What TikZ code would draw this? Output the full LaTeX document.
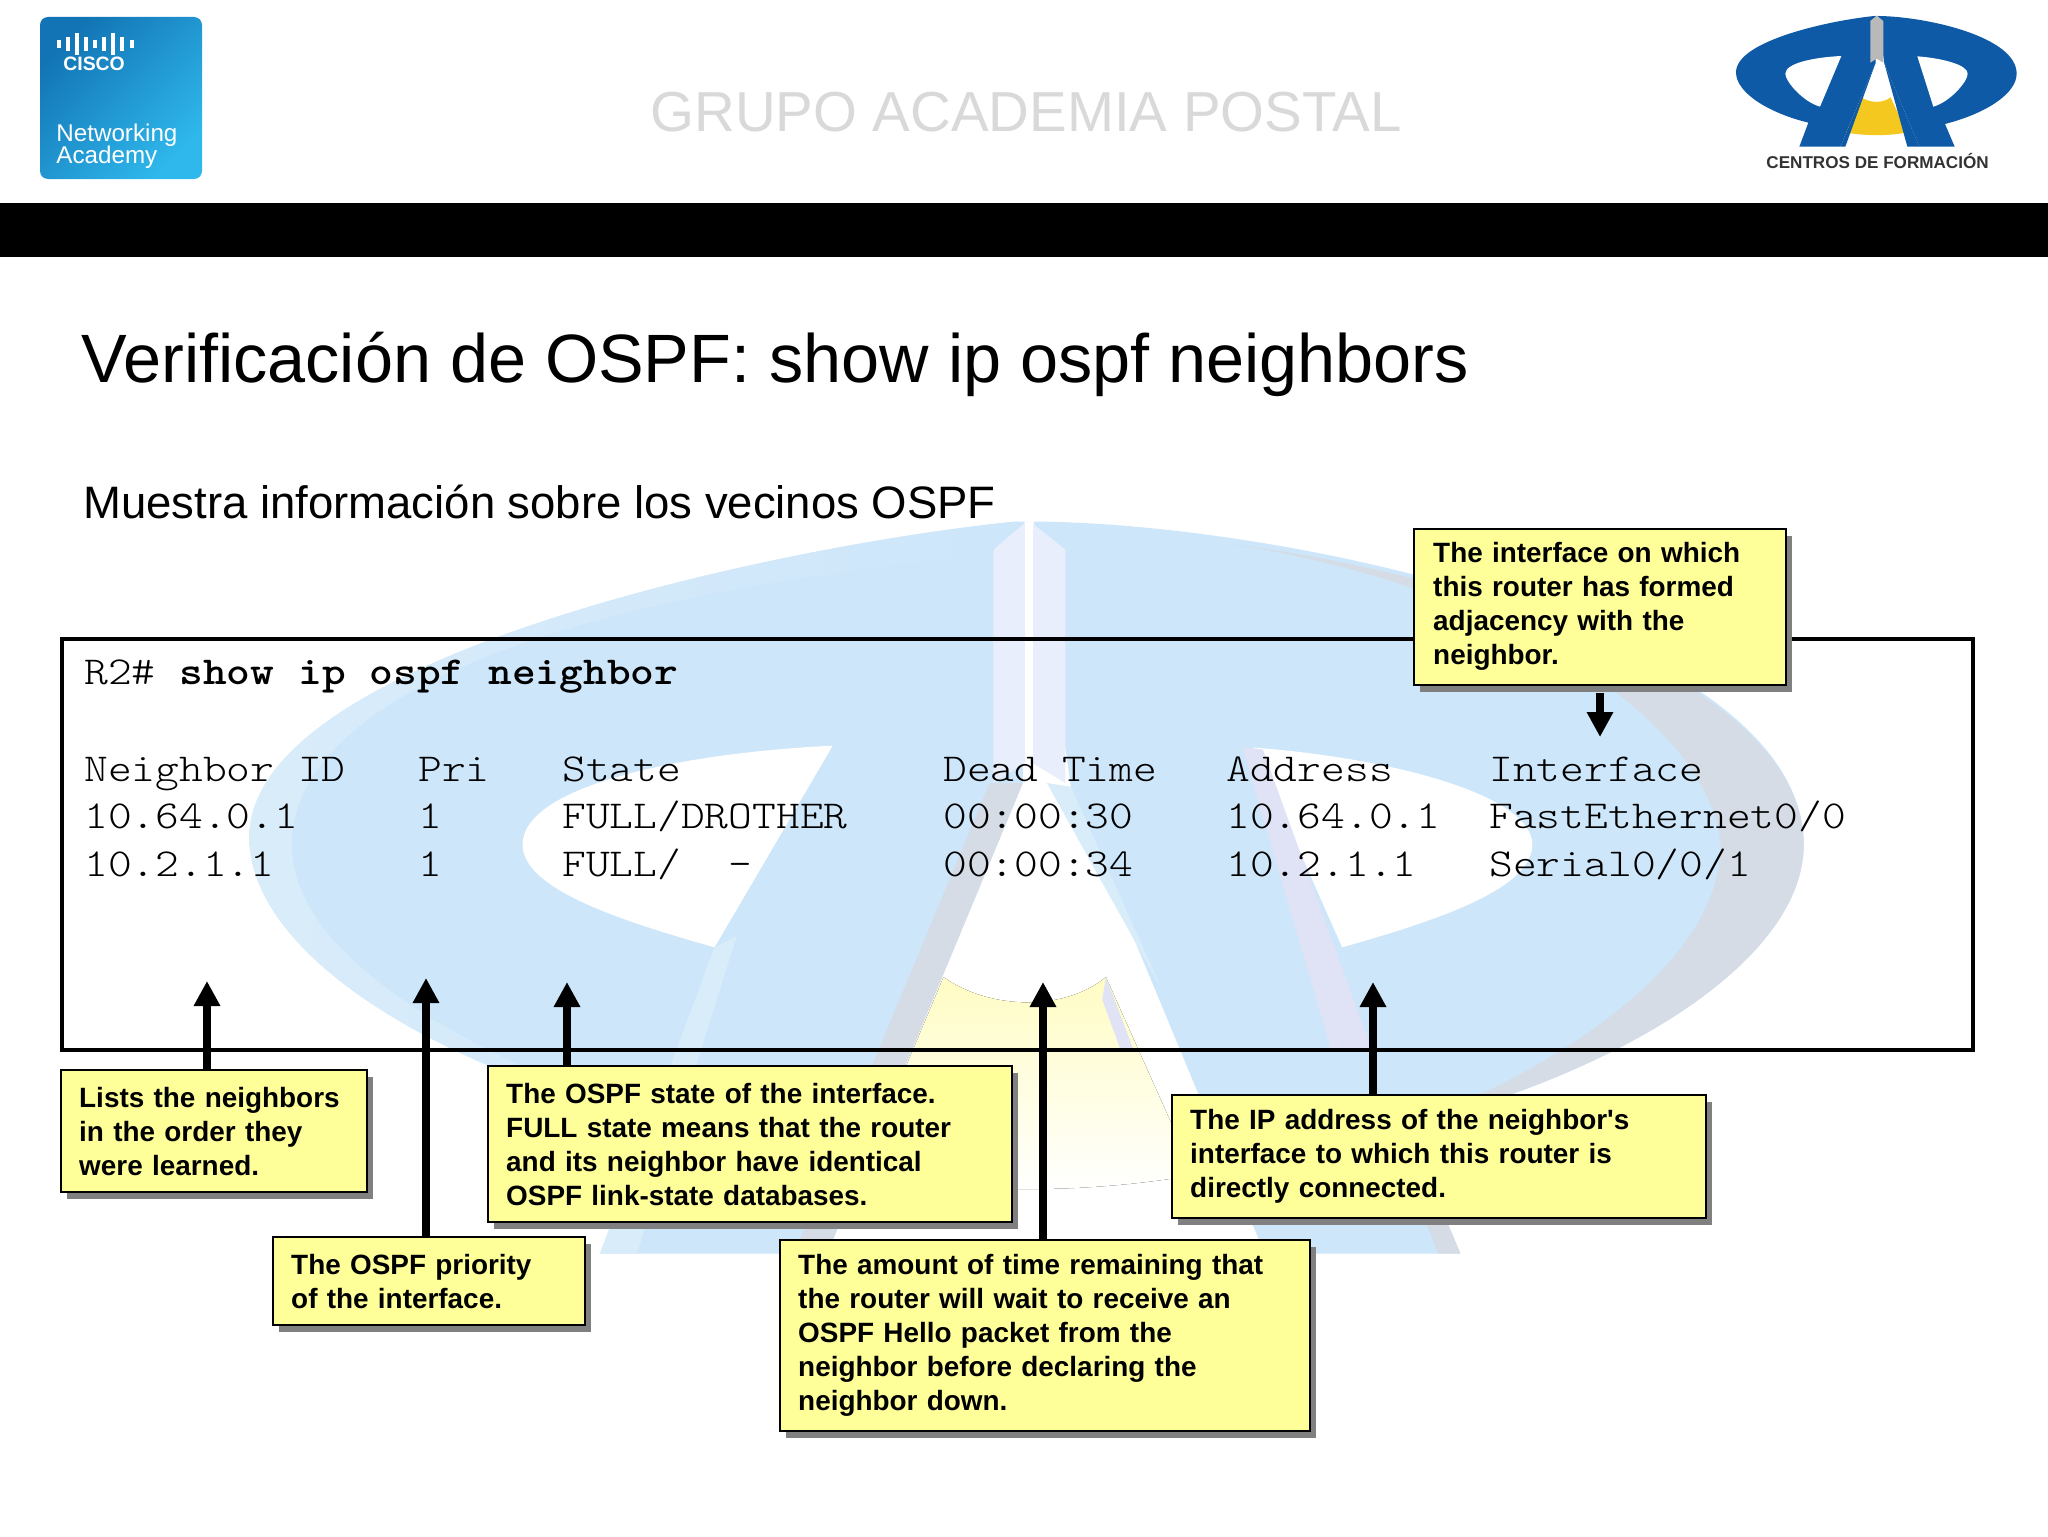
\documentclass[tikz,border=0pt]{standalone}
\usepackage{fontspec}
\setmainfont{Liberation Sans}
\newfontfamily\termfont[FakeStretch=1.143]{Latin Modern Mono Light}
\usetikzlibrary{arrows.meta}
\usetikzlibrary{shadows}
\definecolor{notefill}{HTML}{FFFF99}
\definecolor{markblue}{HTML}{CDE6FA}
\definecolor{markgray}{HTML}{E8EEFB}
\definecolor{markrim}{HTML}{D9ECFA}
\definecolor{markpale}{HTML}{E8F7FD}
\definecolor{markshade}{HTML}{D5DCE6}
\definecolor{markviolet}{HTML}{E0E3F5}
\definecolor{markyellow}{HTML}{FFFCC4}
\definecolor{logoblue}{HTML}{0F5AA6}
\definecolor{logoyellow}{HTML}{F4C81E}
\definecolor{ciscodark}{HTML}{1274B4}
\definecolor{ciscolight}{HTML}{2FB8EC}
\tikzset{
  note/.style={draw=black,line width=1.2pt,fill=notefill,anchor=north west,align=left,
    inner sep=0pt,font=\fontsize{13.95}{17}\selectfont\bfseries,
    drop shadow={shadow xshift=3pt,shadow yshift=-3.5pt,fill=black!50,opacity=1}},
  term/.style={anchor=base west,inner sep=0pt,font=\termfont\fontsize{19.8}{23}\selectfont},
  pointer/.style={-{Triangle[length=12.5pt,width=12.5pt]},line width=3.6pt},
  plain/.style={anchor=base west,inner sep=0pt}
}
% the logo, in the coordinates of its small copy; #5 is how low the holes reach
\newcommand\logoshape[5]{%
\fill[#1] (523,48) .. controls (400,60) and (108,120) .. (108,217)
  .. controls (108,280) and (210,340) .. (325,368) -- (298,440) -- (421,440)
  -- (527,188) -- (528,48) -- cycle;
\fill[#1] (537,48) .. controls (680,50) and (950,110) .. (950,221)
  .. controls (950,280) and (860,340) .. (735,372) -- (764,440) -- (658,440)
  -- (553,190) -- (533,48) -- cycle;
\fill[#2] (424,168) .. controls (340,172) and (256,190) .. (256,221)
  .. controls (256,245) and (310,#5-14) .. (360,#5) -- cycle;
\fill[#2] (652,169) .. controls (730,175) and (803,195) .. (803,221)
  .. controls (803,245) and (750,#5-14) .. (700,#5) -- cycle;
\fill[#3] (484,292) .. controls (510,310) and (550,310) .. (572,292) -- (620,398)
  .. controls (560,408) and (500,408) .. (439,398) -- cycle;
\fill[#4] (511,63) -- (529,48) -- (531,48) -- (550,63) -- (550,188) -- (530,176) -- (511,188) -- cycle;
}

\begin{document}
\begin{tikzpicture}[x=0.5pt,y=-0.5pt]
\useasboundingbox (0,0) rectangle (2048,1536);
\fill[white] (0,0) rectangle (2048,1536);

%header
\shade[rounded corners=4pt,left color=ciscodark,right color=ciscolight,shading angle=45] (40,17) rectangle (202,179);
\foreach \x/\h in {59/4,68/7,77/11,86/7,95/4,104/7,113/11,122/7,132/4}{%
\fill[white] (\x-1.6,44-\h) rectangle (\x+1.6,44+\h);
}
\node[plain,text=white,font=\fontsize{9.7}{10}\selectfont\bfseries] (ciscotext) at (63,71) {CISCO};
\node[plain,text=white,font=\fontsize{12.1}{12}\selectfont] (netacad1) at (56,141) {Networking};
\node[plain,text=white,font=\fontsize{12.1}{12}\selectfont] (netacad2) at (56,163) {Academy};
\node[plain,text=black!15,font=\fontsize{28.2}{30}\selectfont] (grupo) at (650,132) {GRUPO ACADEMIA POSTAL};
\begin{scope}[shift={(1700,0)},xscale=0.3333,yscale=0.3333]
\logoshape{logoblue}{white}{logoyellow}{gray!55}{320}
\fill[logoblue] (527,188) -- (436,440) -- (421,440) -- cycle;
\fill[logoblue] (553,190) -- (622,440) -- (658,440) -- cycle;
\end{scope}
\node[plain,text=black!80,font=\fontsize{8.55}{10}\selectfont\bfseries] (centros) at (1766,168) {CENTROS DE FORMACIÓN};
\fill[black] (0,203) rectangle (2048,257);

%watermark
\begin{scope}[shift={(50,432)},xscale=1.846,yscale=1.867]
\logoshape{markblue}{white}{top color=markyellow,bottom color=white}{markgray}{276}
%left rim
\shade[left color=markrim,middle color=markpale,right color=markblue]
  (523,48) .. controls (400,60) and (108,120) .. (108,217)
  .. controls (108,280) and (210,340) .. (325,368)
  .. controls (220,330) and (131,280) .. (131,221)
  .. controls (131,150) and (250,90) .. (509,66) -- cycle;
%right rim
\shade[top color=markshade,middle color=markrim,bottom color=markshade]
  (640,60) .. controls (760,75) and (950,130) .. (950,221)
  .. controls (950,280) and (860,340) .. (735,372)
  .. controls (830,335) and (905,280) .. (905,221)
  .. controls (900,160) and (800,85) .. (640,60) -- cycle;
%strips
\fill[markshade] (509,188) -- (527,188) -- (421,440) -- (403,440) -- cycle;
\fill[markrim] (360,276) -- (372,270) -- (318,440) -- (298,440) -- cycle;
\fill[markviolet] (646,169) -- (657,170) -- (716,331) -- (694,331) -- cycle;
\fill[markviolet] (572,292) -- (587,331) -- (580,331) -- (570,304) -- cycle;
\fill[markrim] (540,188) -- (553,190) -- (603,300) -- cycle;
\fill[markshade] (725,372) -- (735,372) -- (764,440) -- (752,440) -- cycle;
\fill[white] (528.4,48) -- (532.7,48) -- (532.7,180) -- (528.4,180) -- cycle;
\end{scope}

%title
\node[plain,font=\fontsize{34.2}{38}\selectfont] (title) at (81,382) {Verificación de OSPF: show ip ospf neighbors};
\node[plain,font=\fontsize{22.74}{26}\selectfont] (subtitle) at (83,518) {Muestra información sobre los vecinos OSPF};

%terminal
\draw[line width=2pt] (62,639) rectangle (1973,1050);
\node[term] (prompt) at (84,684) {R2\# {\bfseries show ip ospf neighbor}};
\foreach \x/\a/\b/\c in {84/Neighbor ID/10.64.0.1/10.2.1.1,418/Pri/1/1,562/State/FULL\slash DROTHER/FULL\slash\ \ -,943/Dead Time/00:00:30/00:00:34,1226/Address/10.64.0.1/10.2.1.1,1489/Interface/FastEthernet0\slash 0/Serial0\slash 0\slash 1}{%
\node[term] (head\x) at (\x,781) {\a};
\node[term] (rowa\x) at (\x,828) {\b};
\node[term] (rowb\x) at (\x,876) {\c};
}

%notes
\coordinate (tipid) at (207,981);
\coordinate (tippri) at (426,978);
\coordinate (tipstate) at (567,982);
\coordinate (tipdead) at (1043,982);
\coordinate (tipaddr) at (1373,982);
\coordinate (tipiface) at (1600,737);

\node[note,minimum width=153pt,minimum height=61pt,text width=135pt] (noteid) at (60,1069) {Lists the neighbors\\in the order they\\were learned.};
\node[note,minimum width=156pt,minimum height=44pt,text width=138pt] (notepri) at (272,1236) {The OSPF priority\\of the interface.};
\node[note,minimum width=262pt,minimum height=78pt,text width=244pt] (notestate) at (487,1065) {The OSPF state of the interface.\\FULL state means that the router\\and its neighbor have identical\\OSPF link-state databases.};
\node[note,minimum width=265pt,minimum height=95.5pt,text width=247pt] (notedead) at (779,1239) {The amount of time remaining that\\the router will wait to receive an\\OSPF Hello packet from the\\neighbor before declaring the\\neighbor down.};
\node[note,minimum width=267pt,minimum height=61.5pt,text width=249pt] (noteaddr) at (1171,1093.5) {The IP address of the neighbor\textquotesingle s\\interface to which this router is\\directly connected.};
\node[note,minimum width=186pt,minimum height=78pt,text width=167pt] (noteiface) at (1413,527.5) {The interface on which\\this router has formed\\adjacency with the\\neighbor.};

\draw[pointer] (noteid.north -| tipid) -- (tipid);
\draw[pointer] (notepri.north -| tippri) -- (tippri);
\draw[pointer] (notestate.north -| tipstate) -- (tipstate);
\draw[pointer] (notedead.north -| tipdead) -- (tipdead);
\draw[pointer] (noteaddr.north -| tipaddr) -- (tipaddr);
\draw[pointer] ([yshift=-3.5pt]noteiface.south -| tipiface) -- (tipiface);
\end{tikzpicture}
\end{document}
